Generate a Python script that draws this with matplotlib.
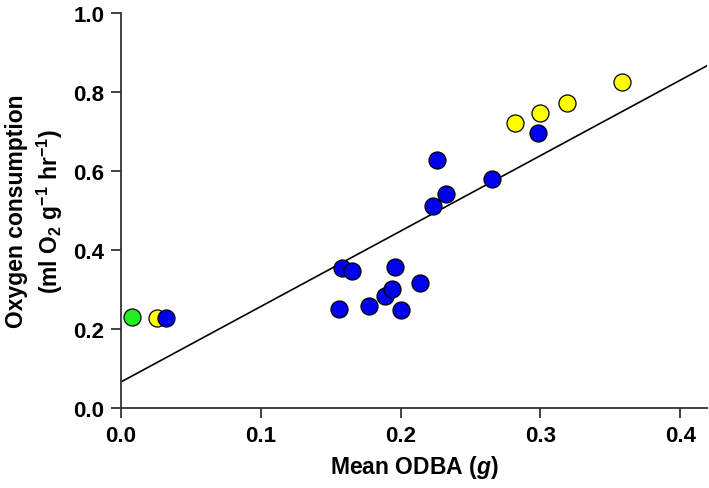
import numpy as np
import matplotlib
matplotlib.use('Agg')
import matplotlib.pyplot as plt

plt.rcParams['font.family'] = ['Liberation Sans', 'DejaVu Sans']
plt.rcParams['font.weight'] = 'bold'
plt.rcParams['mathtext.fontset'] = 'custom'
plt.rcParams['mathtext.rm'] = 'Liberation Sans:bold'
plt.rcParams['mathtext.bf'] = 'Liberation Sans:bold'
plt.rcParams['mathtext.it'] = 'Liberation Sans:italic'

# data
blue_x = [0.032, 0.158, 0.165, 0.156, 0.1956, 0.1775, 0.189, 0.194, 0.2004,
          0.2137, 0.223, 0.2325, 0.226, 0.265, 0.298]
blue_y = [0.228, 0.354, 0.346, 0.251, 0.356, 0.257, 0.283, 0.300, 0.248,
          0.316, 0.511, 0.542, 0.629, 0.580, 0.696]
yellow_x = [0.026, 0.282, 0.300, 0.319, 0.358]
yellow_y = [0.228, 0.722, 0.748, 0.772, 0.825]
green_x = [0.008]
green_y = [0.230]
# regression line
intercept = 0.066
slope = 1.91

fig = plt.figure(figsize=(7.09, 4.89), dpi=100)
ax = fig.add_axes([0.1707, 0.1636, 0.8263, 0.8078])

xl = np.array([0, 0.42])
ax.plot(xl, intercept + slope * xl, 'k-', lw=1.2, zorder=1)

kw = dict(s=150, edgecolors='black', linewidths=0.9, zorder=3)
ax.scatter(green_x, green_y, c='#22ee22', **kw)
ax.scatter(yellow_x, yellow_y, c='#ffff00', **kw)
ax.scatter(blue_x, blue_y, c='#0000ee', **kw)

ax.set_xlim(0, 0.419)
ax.set_ylim(0, 1.0)
ax.set_xticks([0, 0.1, 0.2, 0.3, 0.4])
ax.set_xticklabels(['0.0', '0.1', '0.2', '0.3', '0.4'])
ax.set_yticks([0, 0.2, 0.4, 0.6, 0.8, 1.0])
ax.set_yticklabels(['0.0', '0.2', '0.4', '0.6', '0.8', '1.0'])
for s in ['top', 'right']:
    ax.spines[s].set_visible(False)
for s in ['left', 'bottom']:
    ax.spines[s].set_linewidth(1.3)
    ax.spines[s].set_color('#333333')
ax.tick_params(direction='out', length=7, width=1.3, labelsize=16, color='#333333', pad=5)

ax.set_xlabel('Mean ODBA ($g$)', fontsize=16.5, fontweight='bold', labelpad=5)
ax.set_ylabel('Oxygen consumption\n(ml O$_2$ g$^{-1}$ hr$^{-1}$)', fontsize=16.5,
              fontweight='bold', labelpad=6, linespacing=1.3)

fig.savefig('out.png', dpi=100)
